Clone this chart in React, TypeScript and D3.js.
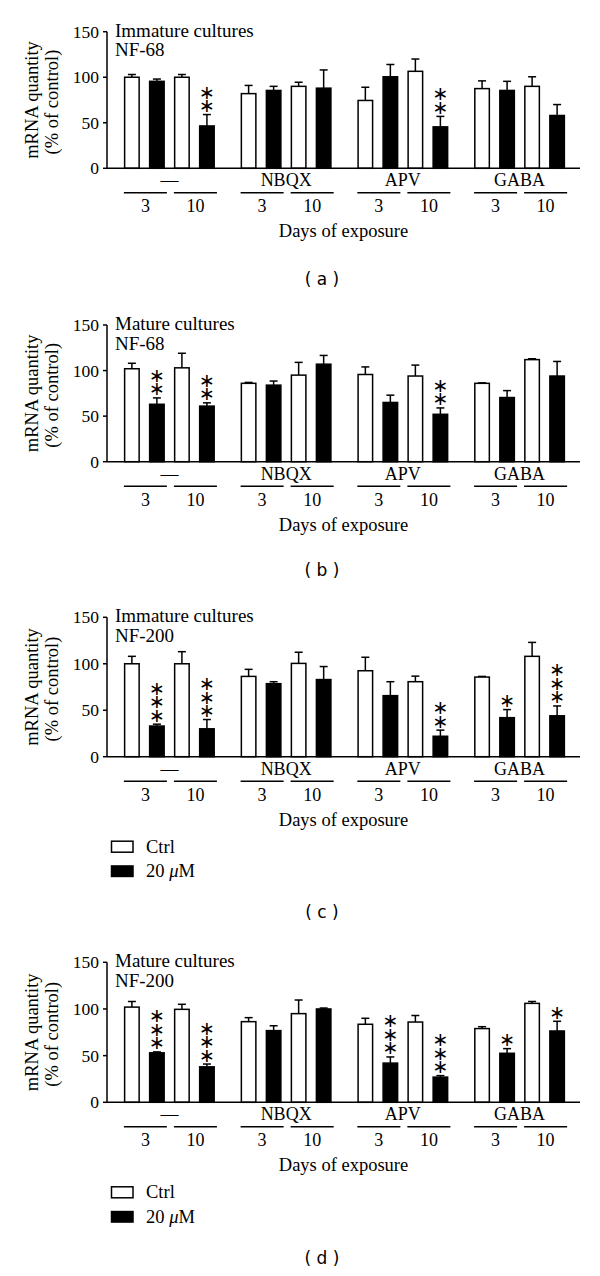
import React from "react";
import * as d3 from "d3";

// ---------- data ----------
const groups = ["—", "NBQX", "APV", "GABA"];
const dayLabels = ["3", "10"];
const seriesNames = ["Ctrl", "20 μM"];
const yTicks = [0, 50, 100, 150];
const axisTitle = ["mRNA quantity", "(% of control)"];
const xTitle = "Days of exposure";

// bar order within each group: [3d Ctrl, 3d 20µM, 10d Ctrl, 10d 20µM]
const aMeans = [100, 95.5, 100, 46.5, 82, 85.5, 90, 88, 74.5, 100.5, 106.5, 45.5, 87.5, 85.5, 90, 58];
const aErrors = [3, 2.5, 3, 12.5, 9, 4.5, 4.5, 20, 14.5, 13.5, 13.5, 11.5, 8.5, 10, 10.5, 12];
const aStars = [0, 0, 0, 2, 0, 0, 0, 0, 0, 0, 0, 2, 0, 0, 0, 0];

const bMeans = [102, 63, 103, 61, 86, 84, 95, 107, 95.7, 65, 94, 52, 86, 70.4, 112, 94];
const bErrors = [6, 7, 16, 3.6, 1, 4.5, 14, 9.6, 8.3, 8, 12, 7, 0.5, 7.6, 1, 16];
const bStars = [0, 2, 0, 2, 0, 0, 0, 0, 0, 0, 0, 2, 0, 0, 0, 0];

const cMeans = [100, 33, 100, 30, 86.4, 78.6, 100.4, 83, 92.5, 65.7, 80.7, 22, 85.7, 42, 108, 44];
const cErrors = [8, 2, 13, 10, 7.6, 2.1, 12, 14, 14.5, 15, 6, 6.6, 0.7, 8.7, 15, 10.6];
const cStars = [0, 3, 0, 3, 0, 0, 0, 0, 0, 0, 0, 2, 0, 1, 0, 3];

const dMeans = [102, 53, 99.6, 38, 86.4, 76.8, 95, 100, 83.6, 42, 86, 27, 79, 52.5, 106, 76.4];
const dErrors = [6, 1, 5.4, 3, 4.3, 5.2, 14.6, 1, 6.4, 6.6, 7, 1.6, 2, 5, 2, 10.4];
const dStars = [0, 3, 0, 3, 0, 0, 0, 0, 0, 3, 0, 3, 0, 1, 0, 1];

// ---------- layout ----------
const panels = [
  { label: "a", culture: "Immature cultures", marker: "NF-68", means: aMeans, errors: aErrors, stars: aStars, y0: 168.3, yTop: 31.7, legend: false, labelDy: 116.5 },
  { label: "b", culture: "Mature cultures", marker: "NF-68", means: bMeans, errors: bErrors, stars: bStars, y0: 461.7, yTop: 325, legend: false, labelDy: 114 },
  { label: "c", culture: "Immature cultures", marker: "NF-200", means: cMeans, errors: cErrors, stars: cStars, y0: 756.7, yTop: 617.3, legend: true, labelDy: 161 },
  { label: "d", culture: "Mature cultures", marker: "NF-200", means: dMeans, errors: dErrors, stars: dStars, y0: 1102.3, yTop: 962.3, legend: true, labelDy: 161.5 },
];

const SERIF = "'Liberation Serif', 'Times New Roman', serif";
const SANS = "'DejaVu Sans', Verdana, sans-serif";
const AX_L = 107;
const AX_R = 580;

function Panel({ cfg }: { cfg: any }) {
  const y = d3.scaleLinear().domain([0, 150]).range([cfg.y0, cfg.yTop]);
  const gx = d3.scaleBand<string>().domain(groups).range([AX_L + 1, AX_R + 1]).paddingInner(0.22).paddingOuter(0.136);
  const bx = d3.scaleBand<number>().domain(d3.range(4)).range([0, gx.bandwidth()]).paddingInner(0.36).paddingOuter(0);
  const bw = bx.bandwidth();
  const y0 = cfg.y0;
  const yMid = (cfg.y0 + cfg.yTop) / 2;

  const bars = cfg.means.map((m: number, i: number) => {
    const g = groups[Math.floor(i / 4)];
    const j = i % 4;
    const x = (gx(g) as number) + (bx(j) as number);
    return { x, cx: x + bw / 2, m, e: cfg.errors[i], s: cfg.stars[i], filled: j % 2 === 1 };
  });

  return (
    <g>
      {/* y axis title */}
      <text transform={`translate(37.5,${yMid}) rotate(-90)`} textAnchor="middle" fontFamily={SERIF} fontSize={18.5}>{axisTitle[0]}</text>
      <text transform={`translate(58,${yMid + 2}) rotate(-90)`} textAnchor="middle" fontFamily={SERIF} fontSize={18.5}>{axisTitle[1]}</text>
      {/* y axis */}
      <line x1={AX_L} x2={AX_L} y1={y(0)} y2={y(150)} stroke="#000" strokeWidth={1.5} />
      {yTicks.map((t) => (
        <g key={t}>
          <line x1={AX_L - 4} x2={AX_L} y1={y(t)} y2={y(t)} stroke="#000" strokeWidth={1.5} />
          <text x={99} y={y(t) + 6} textAnchor="end" fontFamily={SERIF} fontSize={17.5}>{t}</text>
        </g>
      ))}
      {/* title */}
      <text x={115} y={cfg.yTop + 5} fontFamily={SERIF} fontSize={19}>{cfg.culture}</text>
      <text x={115} y={cfg.yTop + 24.5} fontFamily={SERIF} fontSize={19}>{cfg.marker}</text>
      {/* bars */}
      {bars.map((b: any, i: number) => (
        <g key={i}>
          <line x1={b.cx} x2={b.cx} y1={y(b.m)} y2={y(b.m + b.e)} stroke="#000" strokeWidth={1.5} />
          <line x1={b.cx - 4} x2={b.cx + 4} y1={y(b.m + b.e)} y2={y(b.m + b.e)} stroke="#000" strokeWidth={1.5} />
          <rect x={b.x + 0.75} y={y(b.m)} width={bw - 1.5} height={y0 - y(b.m)} fill={b.filled ? "#000" : "#fff"} stroke="#000" strokeWidth={1.5} />
          {b.s > 0 && (
            <text textAnchor="middle" dominantBaseline="central" fontFamily={SANS} fontSize={19}>
              {d3.range(b.s).map((k: number) => (
                <tspan key={k} x={b.cx} y={y(b.m + b.e) - 9.5 - k * 13.5}>∗</tspan>
              ))}
            </text>
          )}
        </g>
      ))}
      {/* x axis */}
      <line x1={AX_L} x2={AX_R} y1={y0} y2={y0} stroke="#000" strokeWidth={1.5} />
      {groups.map((g) => {
        const gs = gx(g) as number;
        return (
          <g key={g}>
            <text x={gs + gx.bandwidth() / 2} y={y0 + 18} textAnchor="middle" fontFamily={SERIF} fontSize={18}>{g}</text>
            {dayLabels.map((d, di) => {
              const x1 = gs + (bx(di * 2) as number);
              const x2 = gs + (bx(di * 2 + 1) as number) + bw + 2;
              return (
                <g key={d}>
                  <line x1={x1} x2={x2} y1={y0 + 24.5} y2={y0 + 24.5} stroke="#000" strokeWidth={1.5} />
                  <text x={(x1 + x2) / 2} y={y0 + 44} textAnchor="middle" fontFamily={SERIF} fontSize={18}>{d}</text>
                </g>
              );
            })}
          </g>
        );
      })}
      <text x={(AX_L + AX_R) / 2} y={y0 + 69} textAnchor="middle" fontFamily={SERIF} fontSize={18.5}>{xTitle}</text>
      {cfg.legend && (
        <g>
          <rect x={111.5} y={y0 + 84.5} width={21.5} height={11} fill="#fff" stroke="#000" strokeWidth={1.5} />
          <text x={146} y={y0 + 96} fontFamily={SERIF} fontSize={18.5}>{seriesNames[0]}</text>
          <rect x={110.75} y={y0 + 108.5} width={23} height={12} fill="#000" />
          <text x={146} y={y0 + 120.5} fontFamily={SERIF} fontSize={18.5}>
            {"20 "}
            <tspan fontStyle="italic">μ</tspan>
            {"M"}
          </text>
        </g>
      )}
      <text x={322} y={y0 + cfg.labelDy} textAnchor="middle" fontFamily={SANS} fontSize={17} style={{ whiteSpace: "pre" }}>{`( ${cfg.label} )`}</text>
    </g>
  );
}

export default function App() {
  return (
    <svg width={600} height={1276} style={{ position: "absolute", left: 0, top: 0, background: "#fff" }}>
      <rect x={0} y={0} width={600} height={1276} fill="#fff" />
      {panels.map((p) => (
        <Panel key={p.label} cfg={p} />
      ))}
    </svg>
  );
}
